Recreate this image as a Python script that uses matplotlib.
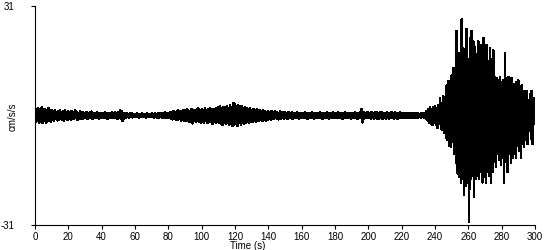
import numpy as np
import matplotlib
matplotlib.use("Agg")
import matplotlib.pyplot as plt

plt.rcParams['font.family'] = ['Liberation Sans', 'DejaVu Sans']

# Per-second positive peaks (cm/s/s)
upper = [
    2.2, 1.8, 2.0, 1.5, 2.3, 1.7, 1.9, 1.4, 2.1, 1.6,
    1.4, 1.2, 1.6, 1.1, 1.3, 1.5, 1.0, 1.2, 1.4, 1.1,
    1.2, 0.9, 1.3, 1.0, 1.4, 1.1, 0.8, 1.2, 1.0, 0.9,
    0.8, 1.0, 0.7, 0.9, 1.1, 0.8, 0.6, 0.9, 0.7, 0.8,
    0.7, 0.6, 0.9, 0.7, 0.8, 0.6, 0.9, 0.7, 1.0, 0.8,
    1.0, 1.6, 1.2, 0.8, 0.6, 0.7, 0.5, 0.6, 0.7, 0.5,
    0.5, 0.6, 0.4, 0.5, 0.6, 0.5, 0.4, 0.6, 0.5, 0.5,
    0.6, 0.5, 0.7, 0.5, 0.6, 0.8, 0.6, 0.7, 0.9, 0.7,
    0.8, 1.0, 0.9, 1.3, 1.1, 1.2, 1.5, 1.0, 1.3, 1.6,
    1.4, 1.8, 1.5, 1.3, 1.9, 1.6, 1.4, 1.7, 2.0, 1.5,
    1.7, 1.5, 2.0, 1.6, 1.8, 2.2, 1.7, 1.9, 1.6, 2.1,
    2.3, 2.8, 2.0, 2.4, 2.1, 2.6, 2.2, 3.0, 2.5, 3.6,
    3.2, 2.6, 2.9, 2.3, 2.7, 2.1, 2.4, 2.0, 1.8, 2.1,
    1.6, 1.9, 1.5, 1.7, 1.4, 1.6, 1.2, 1.5, 1.3, 1.1,
    1.2, 1.0, 1.3, 0.9, 1.1, 1.0, 0.8, 1.2, 0.9, 1.0,
    0.9, 0.8, 1.0, 0.7, 0.9, 0.8, 0.7, 0.9, 0.8, 0.7,
    0.8, 0.7, 0.9, 0.8, 0.7, 0.8, 0.9, 0.7, 0.8, 0.7,
    0.8, 0.9, 0.7, 0.8, 0.7, 0.9, 0.8, 0.7, 0.8, 0.9,
    0.7, 0.8, 0.9, 0.7, 0.8, 0.7, 0.9, 0.8, 0.7, 0.8,
    0.8, 0.7, 0.9, 0.8, 0.7, 0.9, 1.9, 1.0, 0.8, 0.9,
    0.9, 0.8, 1.0, 0.7, 0.9, 1.0, 0.8, 0.9, 1.1, 0.8,
    0.8, 0.9, 0.7, 0.8, 1.0, 0.8, 0.9, 0.7, 0.8, 0.9,
    0.7, 0.8, 0.6, 0.7, 0.8, 0.6, 0.7, 0.8, 0.6, 0.7,
    0.6, 0.5, 0.7, 0.6, 0.8, 1.3, 1.9, 2.3, 1.8, 2.4,
    2.6, 2.2, 3.0, 4.8, 3.4, 5.4, 4.5, 8.5, 9.8, 8.0,
    11.3, 13.5, 12.7, 24.0, 17.8, 15.0, 27.3, 19.0, 18.0, 24.5,
    16.0, 22.0, 24.0, 21.0, 19.5, 17.5, 21.0, 18.0, 20.0, 22.0,
    17.0, 20.0, 15.5, 19.0, 16.0, 18.5, 11.0, 10.5, 10.0, 11.0,
    9.5, 10.0, 17.8, 10.5, 11.0, 8.5, 10.7, 9.0, 8.0, 9.5,
    10.0, 7.0, 8.5, 7.0, 5.5, 7.0, 4.5, 6.0, 7.0, 5.0,
]

# Per-second negative peaks (cm/s/s)
lower = [
    -1.9, -1.6, -2.0, -1.8, -2.1, -1.5, -2.0, -1.7, -1.4, -1.8,
    -1.3, -1.5, -1.1, -1.4, -1.2, -1.0, -1.3, -1.6, -1.1, -1.2,
    -1.0, -1.2, -0.9, -1.1, -0.8, -1.3, -1.0, -0.9, -1.1, -0.8,
    -0.7, -0.9, -0.8, -0.6, -1.0, -0.7, -0.8, -0.6, -0.9, -0.7,
    -0.6, -0.8, -0.7, -0.9, -0.6, -0.7, -0.8, -0.6, -0.7, -0.9,
    -0.8, -1.1, -1.5, -0.9, -0.6, -0.5, -0.6, -0.5, -0.6, -0.5,
    -0.5, -0.4, -0.6, -0.5, -0.4, -0.5, -0.6, -0.4, -0.5, -0.5,
    -0.5, -0.6, -0.5, -0.7, -0.6, -0.5, -0.7, -0.6, -0.8, -0.7,
    -0.8, -0.9, -1.1, -1.0, -1.3, -1.2, -1.1, -1.4, -1.2, -1.5,
    -1.6, -1.4, -1.9, -1.7, -2.3, -1.5, -1.8, -1.6, -1.9, -2.1,
    -1.8, -2.0, -1.6, -2.2, -1.7, -1.9, -2.4, -1.8, -2.0, -1.7,
    -2.0, -2.4, -2.7, -2.1, -2.5, -2.2, -2.6, -2.3, -3.0, -2.8,
    -2.5, -2.9, -2.2, -2.6, -2.0, -2.4, -2.1, -1.9, -2.2, -1.7,
    -1.8, -1.5, -1.7, -1.4, -1.6, -1.3, -1.5, -1.2, -1.4, -1.2,
    -1.0, -1.2, -0.9, -1.1, -0.8, -1.0, -1.1, -0.9, -0.8, -1.0,
    -0.8, -0.9, -0.7, -0.8, -0.9, -0.7, -0.8, -0.7, -0.9, -0.8,
    -0.7, -0.8, -0.7, -0.9, -0.8, -0.7, -0.8, -0.9, -0.7, -0.8,
    -0.8, -0.7, -0.9, -0.7, -0.8, -0.7, -0.9, -0.8, -0.7, -0.8,
    -0.7, -0.8, -0.7, -0.8, -0.9, -0.7, -0.8, -0.7, -0.8, -0.9,
    -0.8, -0.7, -0.8, -0.9, -0.7, -0.8, -2.0, -1.1, -0.8, -0.7,
    -0.8, -0.9, -0.7, -1.0, -0.8, -0.9, -1.0, -0.8, -0.9, -0.7,
    -0.9, -0.8, -0.9, -0.7, -0.8, -1.0, -0.8, -0.9, -0.7, -0.8,
    -0.6, -0.7, -0.8, -0.6, -0.7, -0.8, -0.6, -0.7, -0.6, -0.7,
    -0.5, -0.6, -0.5, -0.7, -0.9, -1.4, -2.0, -2.3, -2.6, -2.1,
    -2.8, -3.5, -2.4, -3.8, -4.2, -5.0, -6.2, -7.0, -8.5, -9.0,
    -7.5, -11.0, -13.5, -16.4, -17.5, -19.0, -18.0, -22.5, -20.0, -19.0,
    -30.0, -18.0, -17.0, -23.0, -18.0, -17.0, -18.0, -16.0, -19.0, -17.5,
    -19.0, -16.0, -17.0, -19.0, -16.0, -13.0, -14.6, -11.0, -12.5, -14.0,
    -12.0, -19.0, -13.0, -16.0, -11.0, -13.5, -12.0, -11.0, -12.0, -8.5,
    -10.0, -12.0, -8.0, -9.0, -7.0, -8.0, -4.0, -6.5, -8.0, -2.3,
]

x_ticks = [0, 20, 40, 60, 80, 100, 120, 140, 160, 180, 200, 220, 240, 260, 280, 300]
y_ticks = [-31, 31]
y_tick_labels = ["-31", "31"]
x_label = "Time (s)"
y_label = "cm/s/s"

# Interleave the peaks: positive at each whole second, negative half a second later
seconds = np.arange(len(upper))
t = np.empty(2 * len(upper))
v = np.empty(2 * len(upper))
t[0::2] = seconds
t[1::2] = seconds + 0.5
v[0::2] = upper
v[1::2] = lower

W, H = 550, 250
fig = plt.figure(figsize=(W / 100, H / 100), dpi=100)
ax = fig.add_axes([35 / W, 25 / H, 500 / W, 219 / H])

ax.plot(t, v, color='black', lw=1.0, antialiased=False)

ax.set_xlim(0, 300)
ax.set_ylim(-31, 31)
ax.set_xticks(x_ticks)
ax.set_yticks(y_ticks)
ax.set_yticklabels(y_tick_labels)

for s in ['top', 'right']:
    ax.spines[s].set_visible(False)
for s in ['left', 'bottom']:
    ax.spines[s].set_linewidth(0.8)
    ax.spines[s].set_color('black')

ax.tick_params(axis='x', direction='out', length=3, width=0.8, pad=2, labelsize=7)
ax.tick_params(axis='y', direction='out', length=3, width=0.8, pad=12, labelsize=7)

fig.text(248 / W, 1 - 246 / H, x_label, ha='center', va='center', fontsize=7)
fig.text(12.5 / W, 1 - 117 / H, y_label, ha='center', va='center', rotation=90, fontsize=7)

fig.savefig('out.png', dpi=100, facecolor='white')
